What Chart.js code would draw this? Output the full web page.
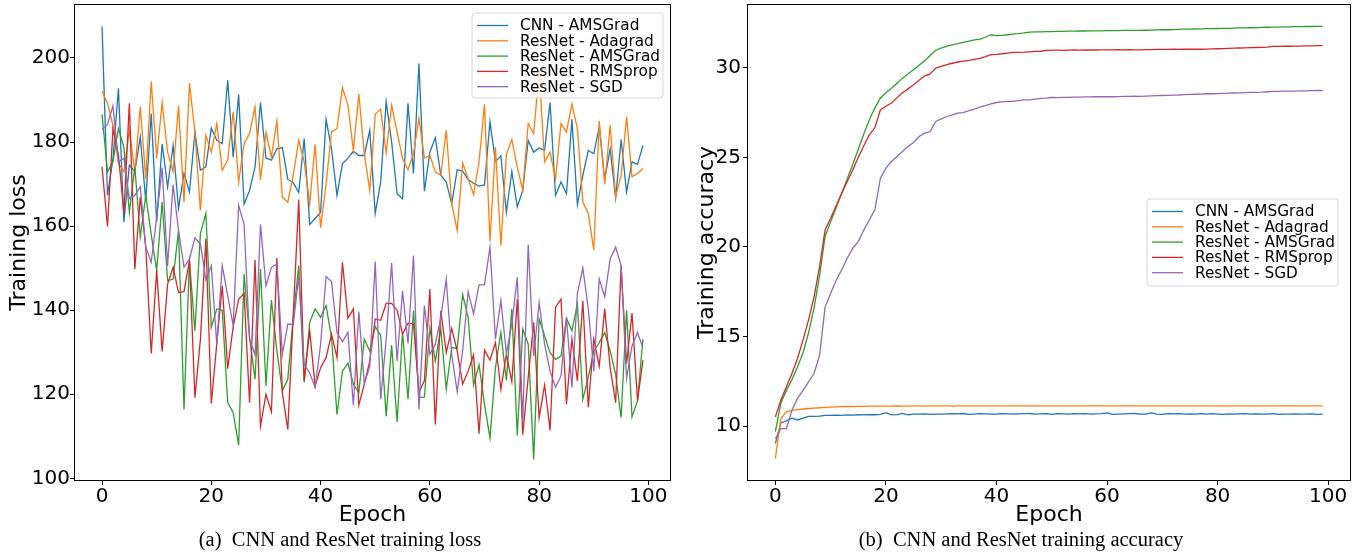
<!DOCTYPE html>
<html><head><meta charset="utf-8">
<script src="https://cdn.jsdelivr.net/npm/chart.js@4.4.1/dist/chart.umd.min.js"></script>
<style>
html,body{margin:0;padding:0;background:#fff}
body{width:1360px;height:555px;overflow:hidden;position:relative}
.wrap{position:absolute;top:0;width:680px;height:555px}
.cap{position:absolute;top:528px;font-family:'Liberation Serif','Times New Roman',serif;font-size:20.5px;color:#000;white-space:pre;transform:translateX(-50%)}
</style></head>
<body>
<div class="wrap" style="left:0"><canvas id="c1" width="680" height="555"></canvas></div>
<div class="wrap" style="left:680px"><canvas id="c2" width="680" height="555"></canvas></div>
<div class="cap" style="left:340px">(a)  CNN and ResNet training loss</div>
<div class="cap" style="left:1021px">(b)  CNN and ResNet training accuracy</div>
<script>
const seriesNames = ['CNN - AMSGrad','ResNet - Adagrad','ResNet - AMSGrad','ResNet - RMSprop','ResNet - SGD'];
const seriesColors = ['#1f77b4','#ff7f0e','#2ca02c','#d62728','#9467bd'];
const epochs = [0,1,2,3,4,5,6,7,8,9,10,11,12,13,14,15,16,17,18,19,20,21,22,23,24,25,26,27,28,29,30,31,32,33,34,35,36,37,38,39,40,41,42,43,44,45,46,47,48,49,50,51,52,53,54,55,56,57,58,59,60,61,62,63,64,65,66,67,68,69,70,71,72,73,74,75,76,77,78,79,80,81,82,83,84,85,86,87,88,89,90,91,92,93,94,95,96,97,98,99];
const epochTicks = [0,20,40,60,80,100];
const lossTicks = [100,120,140,160,180,200];
const accTicks = [10,15,20,25,30];

const lossCNN = [207.5,167.3,176,192.8,161,174.5,173,181.2,166,186.8,
161,179.6,169.3,179.2,164.2,172.6,168.1,182.4,173.3,174.1,
183.3,180.4,179.6,194.7,176.4,191.3,165.2,168.5,174.1,189.4,
176.2,175.7,178.4,178.7,171.1,170.3,168,180.8,160.4,161.8,
163.3,185.4,178.4,167.3,174.9,176.1,177.8,176.8,176.8,182.8,
163,170.5,189.6,180,167.7,166.5,189.2,172.5,198.7,168.3,
177.6,181,172.1,170.5,165.3,173.4,173.1,171.1,170.2,169.5,
169.8,184.8,175.4,176.7,163.3,173,164.6,168.5,180.4,177.6,
178.6,178,189.4,167.3,170.5,167.7,185.4,165.1,172.1,178,
177.2,183.6,171,178.4,166.7,180.6,168.1,175.3,174.7,179.2];
const lossAdagrad = [192.1,189.2,184,175,172.9,182.8,172.9,188.4,171.3,194.4,
176.1,189.4,177.6,172.9,188.6,165.7,194.0,182.4,163.7,181.6,
177.6,184.4,173.3,175.7,187.2,170.5,179.6,182.0,188.4,171.0,
182.3,176.4,185.0,166.9,165.7,172.1,180.4,175.3,165.3,179.4,
159.6,170,182.4,183.2,192.9,188.8,178.0,191.4,177.2,168.5,
186.6,187.8,177.4,188.8,182.4,176.1,173.4,177.2,185.6,176.2,
176.8,172.9,172.1,182.8,165.3,159.0,175.0,171.3,167.5,175.3,
189.0,156.4,178.8,155.4,177.0,180.6,174,168.5,184.4,182.0,
196.7,175.3,177.6,171.3,184.4,182.4,189.0,183.2,165.7,163,
154.3,185,170,184,167,172,186,171.7,172.5,173.7];
const lossResAMSGrad = [186.6,172.9,175.3,183.2,178.8,163.3,174.1,157.4,167.3,158,
149.4,165.7,147.0,147.4,159.0,116.4,151.8,135.1,158.2,163.0,
135.9,140.3,140.0,118.0,115.6,107.9,148.6,133.5,123.6,149.8,
122.0,142.4,130.3,120.8,123.6,138.3,150.6,122.8,137.1,140.3,
138.3,141.1,133.5,115.2,125.5,127.4,122.4,120.4,133.1,130.3,
136.1,134.0,114.8,131.7,113.4,134.7,118.8,140.0,119.2,119.3,
135.7,127.9,135.5,121.2,131.1,130.9,143.7,138.3,122.2,127.0,
117.6,109.6,126.3,134.7,123.3,140.3,110.2,135.5,131.9,104.5,
137.9,133.9,129.9,128.3,129.1,138.1,135.1,141.5,118.8,124.0,
130.3,132.3,134.7,130.3,124.7,114.4,140.0,114.6,118.4,133.1];
const lossRMSprop = [174.1,159.9,183.2,177,163,189.2,149.8,166.9,155,129.7,
149.4,130.2,146.2,150.2,144.2,144.4,151.8,119.2,133,157.0,
117.8,132,145.8,126.1,136,142.6,144.0,118.0,152.0,112.4,
120.0,115.8,152.4,120.4,111.6,139,166.3,123.2,135.1,122.0,
126.3,128.7,134.3,128.7,151.4,138.1,140.3,117.4,122.4,127.9,
137.9,137.6,141.6,141.6,140.0,134.3,136.9,136.7,120.4,123.2,
145.0,112.8,139.9,129.9,135.6,130.3,122.4,125.5,129.4,110.6,
130.5,128.1,132.3,121.2,129.4,123.0,142.6,110.4,124,137.1,
114.4,122.2,111.4,140.7,142.6,117.6,133.1,123.2,142.2,116.9,
133.1,126.7,140.3,126.3,118.0,150.6,127.3,139.3,118.5,128.1];
const lossSGD = [183.0,184.2,188.6,175.3,176.1,166.5,167.3,169.3,155.0,151.4,
162,173.9,150.6,169.9,159.0,150.2,152.2,157.2,155.8,147.2,
150.6,131.9,150.6,143.4,136.3,164.9,160.4,133.1,129.4,160.4,
145.8,150.2,151.0,129.5,136.7,136.6,148,127,125.1,121.6,
131.9,148.0,146.8,134.7,132.5,134.7,117.4,139.7,122.4,126.7,
151.6,118.8,133,151.2,127.9,144.6,132.1,153.0,116.4,141.1,
129.5,131.9,138.3,147.4,129.4,120.6,130.3,144.4,139.1,146.0,
146.0,155.0,133.1,142.4,129.7,136.7,147.8,113.6,155.6,129.1,
141.8,131.9,125.5,121.7,124.3,138.3,121.6,144.0,150.0,140.3,
125.5,147.4,143.2,152.2,155.0,150.6,123.8,131.5,134.7,131.0];

const accCNN = [9.03,10.20,10.30,10.45,10.35,10.45,10.55,10.55,10.56,10.60,
10.60,10.62,10.60,10.63,10.62,10.64,10.63,10.65,10.64,10.66,
10.76,10.63,10.65,10.72,10.64,10.68,10.67,10.69,10.66,10.68,
10.68,10.69,10.70,10.69,10.71,10.66,10.68,10.70,10.69,10.68,
10.67,10.70,10.69,10.68,10.69,10.70,10.71,10.68,10.69,10.70,
10.66,10.70,10.69,10.68,10.70,10.69,10.70,10.68,10.69,10.70,
10.74,10.66,10.68,10.69,10.70,10.71,10.67,10.68,10.74,10.68,
10.66,10.70,10.69,10.70,10.68,10.69,10.67,10.70,10.68,10.70,
10.68,10.66,10.69,10.68,10.69,10.70,10.68,10.69,10.67,10.68,
10.70,10.66,10.67,10.68,10.69,10.67,10.68,10.69,10.66,10.68];
const accAdagrad = [8.20,10.43,10.80,10.89,10.93,10.96,10.99,11.01,11.03,11.05,
11.07,11.08,11.09,11.10,11.10,11.11,11.11,11.12,11.12,11.12,
11.12,11.12,11.13,11.12,11.12,11.13,11.13,11.12,11.13,11.13,
11.13,11.13,11.12,11.13,11.13,11.13,11.14,11.13,11.13,11.13,
11.13,11.14,11.13,11.13,11.13,11.14,11.13,11.13,11.14,11.13,
11.13,11.13,11.14,11.13,11.13,11.14,11.13,11.13,11.13,11.14,
11.13,11.13,11.14,11.13,11.13,11.13,11.14,11.13,11.13,11.13,
11.14,11.13,11.13,11.14,11.13,11.13,11.13,11.14,11.14,11.13,
11.13,11.14,11.13,11.13,11.14,11.13,11.13,11.14,11.13,11.13,
11.13,11.14,11.13,11.13,11.14,11.14,11.13,11.13,11.14,11.13];
const accResAMSGrad = [9.70,11.30,12.00,12.60,13.30,14.10,15.20,16.60,18.40,20.60,
21.40,22.20,23.00,23.80,24.60,25.45,26.30,27.10,27.75,28.31,
28.60,28.86,29.14,29.42,29.66,29.89,30.14,30.39,30.68,30.97,
31.10,31.20,31.27,31.34,31.42,31.49,31.55,31.60,31.70,31.84,
31.79,31.80,31.84,31.88,31.90,31.94,31.99,32.00,32.00,32.02,
32.02,32.03,32.03,32.04,32.04,32.05,32.05,32.06,32.06,32.06,
32.07,32.07,32.07,32.08,32.08,32.08,32.08,32.09,32.10,32.11,
32.12,32.12,32.13,32.14,32.15,32.15,32.16,32.17,32.18,32.18,
32.19,32.20,32.20,32.21,32.22,32.22,32.23,32.24,32.25,32.26,
32.27,32.27,32.28,32.28,32.29,32.29,32.30,32.30,32.31,32.31];
const accRMSprop = [10.52,11.45,12.20,12.94,13.78,14.80,15.92,17.22,18.90,20.95,
21.60,22.30,23.00,23.65,24.30,25.00,25.65,26.25,26.65,27.65,
27.85,28.03,28.32,28.60,28.82,29.05,29.30,29.55,29.66,29.98,
30.08,30.17,30.25,30.32,30.37,30.41,30.47,30.52,30.62,30.73,
30.75,30.78,30.82,30.86,30.86,30.87,30.89,30.91,30.92,30.97,
30.98,30.98,30.97,30.98,30.99,30.98,30.99,31.00,30.99,31.00,
31.00,31.00,31.01,31.00,31.01,31.00,31.00,31.01,31.01,31.02,
31.02,31.02,31.03,31.02,31.03,31.03,31.04,31.03,31.04,31.05,
31.06,31.07,31.08,31.09,31.10,31.11,31.12,31.13,31.14,31.15,
31.19,31.19,31.20,31.20,31.21,31.21,31.22,31.22,31.23,31.23];
const accSGD = [9.30,9.87,9.87,10.89,11.55,12.00,12.47,12.94,13.97,16.66,
17.41,18.16,18.72,19.37,19.93,20.30,20.95,21.51,22.07,23.84,
24.40,24.77,25.05,25.33,25.60,25.83,26.16,26.35,26.44,27.00,
27.15,27.28,27.37,27.47,27.50,27.61,27.69,27.80,27.88,27.99,
28.06,28.10,28.12,28.12,28.17,28.21,28.21,28.25,28.29,28.31,
28.34,28.33,28.35,28.35,28.36,28.36,28.37,28.37,28.38,28.38,
28.39,28.38,28.39,28.40,28.40,28.41,28.40,28.42,28.43,28.44,
28.45,28.46,28.47,28.48,28.50,28.51,28.52,28.53,28.55,28.55,
28.56,28.57,28.58,28.59,28.60,28.61,28.62,28.63,28.64,28.66,
28.68,28.68,28.69,28.70,28.70,28.71,28.71,28.72,28.73,28.73];

const FONT = "'DejaVu Sans', sans-serif";

const framePlugin = {
  id: 'frame',
  afterDatasetsDraw(chart) {
    const {ctx, chartArea: a} = chart;
    ctx.save();
    ctx.strokeStyle = '#000';
    ctx.lineWidth = 1;
    ctx.strokeRect(Math.round(a.left) - 0.5, Math.round(a.top) - 0.5, Math.round(a.right - a.left) + 1, Math.round(a.bottom - a.top) + 1);
    ctx.restore();
  }
};
const legendPlugin = {
  id: 'mlegend',
  afterDraw(chart, args, o) {
    const ctx = chart.ctx;
    ctx.save();
    ctx.beginPath();
    const r = 3, x = o.x, y = o.y, w = o.w, h = o.h;
    ctx.moveTo(x + r, y); ctx.lineTo(x + w - r, y); ctx.arcTo(x + w, y, x + w, y + r, r);
    ctx.lineTo(x + w, y + h - r); ctx.arcTo(x + w, y + h, x + w - r, y + h, r);
    ctx.lineTo(x + r, y + h); ctx.arcTo(x, y + h, x, y + h - r, r);
    ctx.lineTo(x, y + r); ctx.arcTo(x, y, x + r, y, r); ctx.closePath();
    ctx.fillStyle = 'rgba(255,255,255,0.8)'; ctx.fill();
    ctx.strokeStyle = 'rgba(204,204,204,0.8)'; ctx.lineWidth = 1; ctx.stroke();
    ctx.font = '15.3px ' + FONT; ctx.textBaseline = 'middle'; ctx.textAlign = 'left';
    chart.data.datasets.forEach((ds, i) => {
      const yy = y + 12.5 + i * 15.3;
      ctx.strokeStyle = ds.borderColor; ctx.lineWidth = 1.3;
      ctx.beginPath(); ctx.moveTo(x + 5, yy); ctx.lineTo(x + 36, yy); ctx.stroke();
      ctx.fillStyle = '#000'; ctx.fillText(ds.label, x + 48, yy + 1);
    });
    ctx.restore();
  }
};

function makeChart(id, seriesList, yTicks, yMin, yMax, yTitle, yWidth, yTitlePad, yTickPad, legendPos) {
  const datasets = seriesList.map((d, i) => ({
    label: seriesNames[i], data: d, borderColor: seriesColors[i], backgroundColor: seriesColors[i],
    borderWidth: 1.3, pointRadius: 0, tension: 0, fill: false, order: 5 - i
  }));
  return new Chart(document.getElementById(id), {
    type: 'line',
    data: { labels: epochs, datasets },
    plugins: [framePlugin, legendPlugin],
    options: {
      responsive: false, animation: false, events: [],
      layout: { padding: { top: 5, right: 10, bottom: 25, left: 0 } },
      plugins: { legend: { display: false }, tooltip: { enabled: false }, mlegend: legendPos },
      scales: {
        x: {
          type: 'linear', min: -4.95, max: 103.95,
          afterBuildTicks: s => { s.ticks = epochTicks.map(v => ({ value: v })); },
          afterFit: s => { s.height = 50; s.paddingLeft = 0; s.paddingRight = 0; },
          grid: { display: true, drawOnChartArea: false, drawTicks: true, tickLength: 5, color: '#000', lineWidth: 1 },
          border: { display: false },
          ticks: { color: '#000', font: { family: FONT, size: 20 }, padding: 0, maxRotation: 0, autoSkip: false, callback: v => String(v) },
          title: { display: true, text: 'Epoch', color: '#000', font: { family: FONT, size: 22 }, padding: { top: 0, bottom: 2 } }
        },
        y: {
          type: 'linear', min: yMin, max: yMax,
          afterBuildTicks: s => { s.ticks = yTicks.map(v => ({ value: v })); },
          afterFit: s => { s.width = yWidth; s.paddingTop = 0; s.paddingBottom = 0; },
          grid: { display: true, drawOnChartArea: false, drawTicks: true, tickLength: 5, color: '#000', lineWidth: 1 },
          border: { display: false },
          ticks: { color: '#000', font: { family: FONT, size: 20 }, padding: yTickPad, autoSkip: false, callback: v => String(v) },
          title: { display: true, text: yTitle, color: '#000', font: { family: FONT, size: 22 }, padding: { top: yTitlePad, bottom: 0 } }
        }
      }
    }
  });
}

makeChart('c1', [lossCNN, lossAdagrad, lossResAMSGrad, lossRMSprop, lossSGD], lossTicks, 99.6, 212.6, 'Training loss', 75, 6, 0,
  { x: 472, y: 13, w: 191, h: 85 });
makeChart('c2', [accCNN, accAdagrad, accResAMSGrad, accRMSprop, accSGD], accTicks, 7.0, 33.5, 'Training accuracy', 68, 14, 2,
  { x: 467, y: 199, w: 191, h: 87 });
</script>
</body></html>
